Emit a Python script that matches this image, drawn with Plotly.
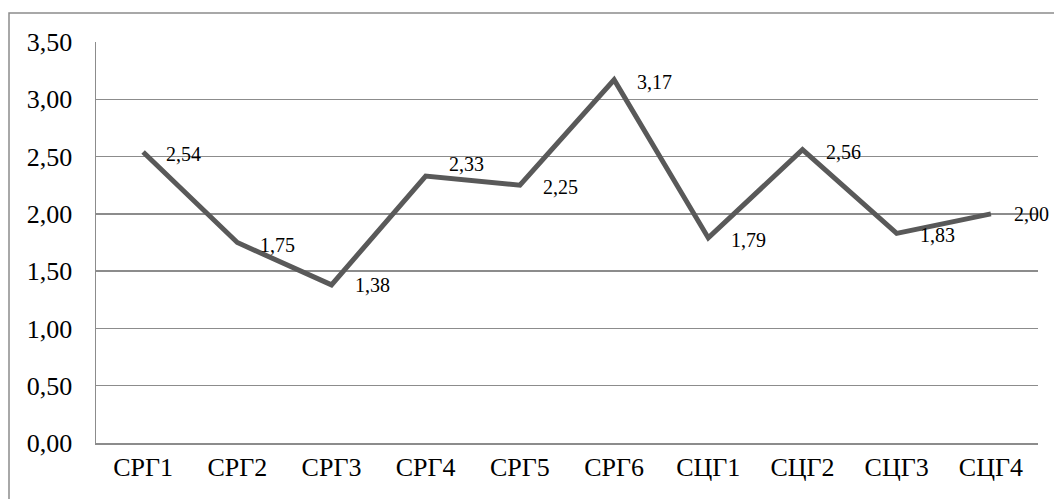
import plotly.graph_objects as go

categories = ["СРГ1", "СРГ2", "СРГ3", "СРГ4", "СРГ5", "СРГ6", "СЦГ1", "СЦГ2", "СЦГ3", "СЦГ4"]
values = [2.54, 1.75, 1.38, 2.33, 2.25, 3.17, 1.79, 2.56, 1.83, 2.00]
y_ticks = [0, 0.5, 1.0, 1.5, 2.0, 2.5, 3.0, 3.5]
y_tick_labels = [f"{v:.2f}".replace(".", ",") for v in y_ticks]
value_labels = [f"{v:.2f}".replace(".", ",") for v in values]
label_yshift = [-2, -2, 0, 12, -2, -2, -2, -2, -2, 0]

FONT = "Liberation Serif, Times New Roman, serif"
W, H = 1054, 499
L, R, T, B = 96, 16, 42, 56

fig = go.Figure()
fig.add_trace(go.Scatter(
    x=categories, y=values, mode="lines",
    line=dict(color="#595959", width=5),
    hoverinfo="skip", showlegend=False,
))

for c, v, lab, ys in zip(categories, values, value_labels, label_yshift):
    fig.add_annotation(x=c, y=v, text=lab, showarrow=False,
                       xanchor="left", yanchor="middle", xshift=21, yshift=ys,
                       font=dict(family=FONT, size=20, color="#000000"))

pw = W - L - R
ph = H - T - B
fig.add_shape(type="rect", xref="paper", yref="paper",
              x0=(9 - L) / pw, x1=(W + 10 - L) / pw,
              y0=-(H + 10 - T - ph) / ph, y1=(T - 13) / ph + 1,
              line=dict(color="#8c8c8c", width=1.5), layer="below")

fig.update_layout(
    width=W, height=H,
    margin=dict(l=L, r=R, t=T, b=B),
    paper_bgcolor="white", plot_bgcolor="white",
    font=dict(family=FONT, color="#000000"),
    xaxis=dict(
        type="category", range=[-0.5, len(categories) - 0.5],
        showgrid=False, showline=True, linecolor="#8c8c8c", linewidth=1.5,
        ticks="", tickfont=dict(family=FONT, size=26, color="#000000"),
        ticklabelstandoff=0, zeroline=False,
    ),
    yaxis=dict(
        range=[0, 3.5], tickvals=y_ticks, ticktext=y_tick_labels,
        showgrid=True, gridcolor="#8c8c8c", gridwidth=1.5,
        showline=True, linecolor="#8c8c8c", linewidth=1.5,
        ticks="", tickfont=dict(family=FONT, size=26, color="#000000"),
        ticklabelstandoff=17, zeroline=False,
    ),
)

fig.write_html(
    "out.html",
    config={"displayModeBar": False, "staticPlot": True},
    post_script="document.body.style.margin='0';document.body.style.overflow='hidden';",
)
